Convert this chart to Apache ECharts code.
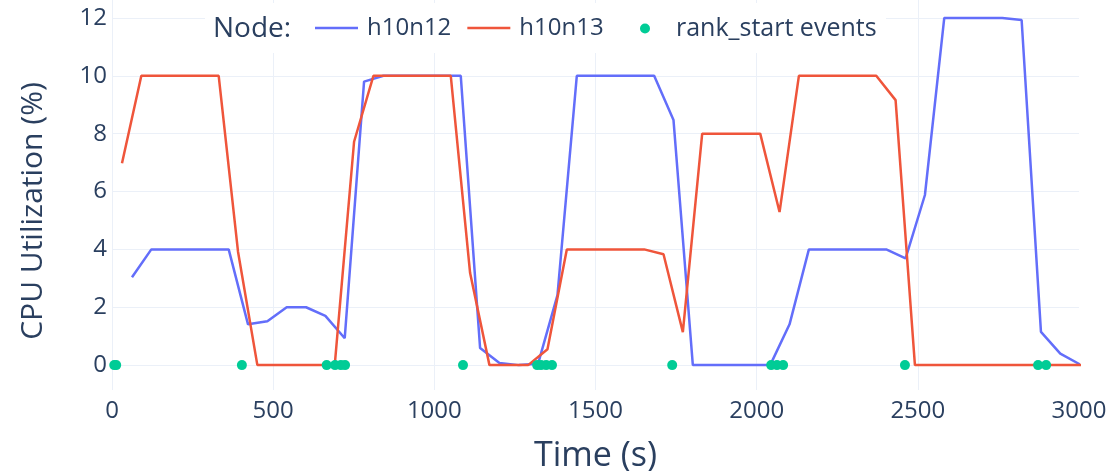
<!DOCTYPE html>
<html>
<head>
<meta charset="utf-8">
<script src="https://cdn.jsdelivr.net/npm/echarts@6/dist/echarts.min.js"></script>
<style>
  html, body { margin: 0; padding: 0; background: #ffffff; }
  #chart { width: 1112px; height: 471px; }
</style>
</head>
<body>
<div id="chart"></div>
<script>
// CPU utilization samples per node (time in seconds, utilization in %)
const h10n12Time = [62, 122, 182, 242, 302, 362, 422, 482, 542, 602, 662, 722, 782, 842, 902, 962, 1022, 1082,
  1142, 1202, 1262, 1322, 1382, 1442, 1502, 1562, 1622, 1682, 1742, 1802, 1862, 1922, 1982, 2042,
  2102, 2162, 2222, 2282, 2342, 2402, 2462, 2522, 2582, 2642, 2702, 2762, 2822, 2882, 2942, 3002];
const h10n12Cpu = [3.04, 4.0, 4.0, 4.0, 4.0, 4.0, 1.41, 1.52, 2.0, 2.0, 1.7, 0.93, 9.8, 10.0, 10.0, 10.0, 10.0, 10.0,
  0.59, 0.07, 0.0, 0.05, 2.42, 10.0, 10.0, 10.0, 10.0, 10.0, 8.47, 0.0, 0.0, 0.0, 0.0, 0.0,
  1.41, 4.0, 4.0, 4.0, 4.0, 4.0, 3.69, 5.88, 12.0, 12.0, 12.0, 12.0, 11.93, 1.15, 0.40, 0.03];

const h10n13Time = [31, 91, 151, 211, 271, 331, 391, 451, 511, 571, 631, 691, 751, 811, 871, 931, 991, 1051,
  1111, 1171, 1231, 1291, 1351, 1411, 1471, 1531, 1591, 1651, 1711, 1771, 1831, 1891, 1951, 2011,
  2071, 2131, 2191, 2251, 2311, 2371, 2431, 2491, 2551, 2611, 2671, 2731, 2791, 2851, 2911, 2971, 3031];
const h10n13Cpu = [6.98, 10.0, 10.0, 10.0, 10.0, 10.0, 3.92, 0.0, 0.0, 0.0, 0.0, 0.0, 7.72, 10.0, 10.0, 10.0, 10.0, 10.0,
  3.18, 0.0, 0.0, 0.0, 0.55, 4.0, 4.0, 4.0, 4.0, 4.0, 3.83, 1.14, 8.0, 8.0, 8.0, 8.0,
  5.29, 10.0, 10.0, 10.0, 10.0, 10.0, 9.16, 0.0, 0.0, 0.0, 0.0, 0.0, 0.0, 0.0, 0.0, 0.0, 0.0];

// times at which ranks started (drawn on the zero line)
const rankStartTime = [7, 13, 403, 666, 692, 710, 723, 1089, 1319, 1331, 1347, 1365, 1738, 2045, 2063, 2082, 2460, 2873, 2898];

const xTicks = [0, 500, 1000, 1500, 2000, 2500, 3000];

const FONT = '"Open Sans", "DejaVu Sans", sans-serif';
const INK = '#2a3f5f';
const GRID = '#EBF0F8';
const LINE_ICON = 'path://M0,0h43v2.5h-43z';

const zip = (xs, ys) => xs.map((x, i) => [x, ys[i]]);

const chart = echarts.init(document.getElementById('chart'));
chart.setOption({
  animation: false,
  backgroundColor: '#ffffff',
  textStyle: { fontFamily: FONT, color: INK },
  grid: { left: 112, right: 33, top: 0, bottom: 81, containLabel: false, outerBoundsMode: 'none' },
  graphic: [
    {
      // legend backdrop
      type: 'rect', z: 10, silent: true,
      shape: { x: 205, y: 3, width: 681, height: 50 },
      style: { fill: '#ffffff' }
    },
    {
      type: 'text', left: 213, top: 15, z: 12,
      style: { text: 'Node:', font: '28px ' + FONT, fill: INK }
    }
  ],
  legend: [
    {
      left: 315, top: 16, padding: 0, z: 11,
      itemGap: 16, itemWidth: 43, itemHeight: 10,
      textStyle: { fontFamily: FONT, fontSize: 24, color: INK, padding: [0, 0, 0, 4] },
      data: [
        { name: 'h10n12', icon: LINE_ICON },
        { name: 'h10n13', icon: LINE_ICON }
      ]
    },
    {
      left: 640, top: 16, padding: 0, z: 11,
      itemWidth: 10, itemHeight: 10,
      textStyle: { fontFamily: FONT, fontSize: 25, color: INK, padding: [0, 0, 0, 21] },
      data: [{ name: 'rank_start events', icon: 'circle' }]
    }
  ],
  xAxis: {
    type: 'value', min: 0, max: 3000, interval: 500,
    name: 'Time (s)', nameLocation: 'middle', nameGap: 49,
    nameTextStyle: { fontSize: 34, color: INK, fontFamily: FONT },
    axisLine: { show: false }, axisTick: { show: false },
    axisLabel: { fontSize: 24, color: INK, margin: 9,
      formatter: v => xTicks.includes(v) ? String(v) : '' },
    splitLine: { show: true, showMaxLine: false, lineStyle: { color: GRID, width: 1 } }
  },
  yAxis: {
    type: 'value', min: -0.86, max: 12.62, splitNumber: 6,
    name: 'CPU Utilization (%)', nameLocation: 'middle', nameGap: 64,
    nameTextStyle: { fontSize: 30, color: INK, fontFamily: FONT, padding: [0, 32, 0, 0] },
    axisLine: { show: false }, axisTick: { show: false },
    axisLabel: { fontSize: 24, color: INK, margin: 5, showMinLabel: false, showMaxLabel: false },
    splitLine: { show: true, showMinLine: false, showMaxLine: false, lineStyle: { color: GRID, width: 1 } }
  },
  series: [
    {
      name: 'h10n12', type: 'line', data: zip(h10n12Time, h10n12Cpu),
      symbol: 'none', color: '#636efa', lineStyle: { width: 2.5, color: '#636efa' }, z: 3
    },
    {
      name: 'h10n13', type: 'line', data: zip(h10n13Time, h10n13Cpu),
      symbol: 'none', color: '#EF553B', lineStyle: { width: 2.5, color: '#EF553B' }, z: 4
    },
    {
      name: 'rank_start events', type: 'scatter',
      data: rankStartTime.map(t => [t, 0]),
      symbol: 'circle', symbolSize: 10, color: '#00cc96',
      itemStyle: { color: '#00cc96', opacity: 1 }, z: 5
    }
  ]
});
</script>
</body>
</html>
